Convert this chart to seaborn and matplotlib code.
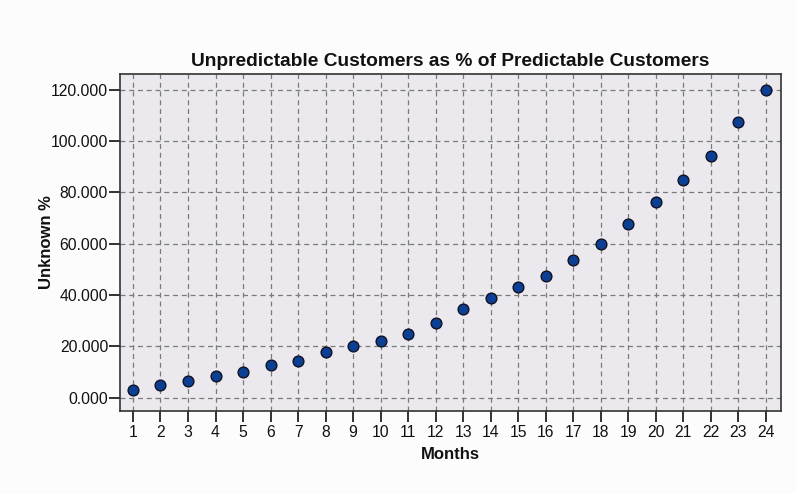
import numpy as np
import pandas as pd
import matplotlib
matplotlib.use("Agg")
import matplotlib.pyplot as plt
import seaborn as sns

# values
months = list(range(1, 25))
unknown_pct = [3.0, 4.9, 6.5, 8.6, 10.0, 12.7, 14.4, 17.7, 20.0, 21.9,
               24.8, 29.1, 34.4, 38.9, 43.0, 47.3, 53.7, 60.0, 67.6, 76.2,
               85.0, 94.0, 107.5, 120.0]
y_ticks = [0, 20, 40, 60, 80, 100, 120]

df = pd.DataFrame({"Months": months, "Unknown %": unknown_pct})

sns.set_theme(style="white")
plt.rcParams["font.family"] = ["Liberation Sans", "DejaVu Sans"]

fig = plt.figure(figsize=(7.96, 4.94), dpi=100)
fig.patch.set_facecolor("#fbfcfb")
ax = fig.add_axes([0.1508, 0.1686, 0.8304, 0.681])
ax.set_facecolor("#ebe9ee")

#Scatter of the points, dark blue with black edge
sns.scatterplot(data=df, x="Months", y="Unknown %", ax=ax, s=60,
                color="#0b3f94", edgecolor="#111122", linewidth=1.0, zorder=3)

ax.set_xlim(0.53, 24.55)
ax.set_ylim(-5.1, 126.0)
ax.set_xticks(months)
ax.set_xticklabels([str(m) for m in months])
ax.set_yticks(y_ticks)
ax.set_yticklabels([f"{v:.3f}" for v in y_ticks])

#Dashed grid like the original
ax.grid(True, linestyle=(0, (4, 3)), color="#7a7a7a", linewidth=0.9)
ax.set_axisbelow(True)

for side in ["left", "bottom", "top", "right"]:
    ax.spines[side].set_visible(True)
    ax.spines[side].set_color("#333333")
    ax.spines[side].set_linewidth(1.2)

ax.tick_params(axis="both", direction="out", length=8, width=1.3, color="#222222",
               labelsize=11.3, labelcolor="#111111", bottom=True, left=True)
ax.tick_params(axis="y", pad=0.5)
ax.tick_params(axis="x", pad=2.5)

ax.set_xlabel("Months", fontsize=12, fontweight="bold", labelpad=5, color="#111111")
ax.set_ylabel("Unknown %", fontsize=12, fontweight="bold", labelpad=-2, color="#111111")
ax.set_title("Unpredictable Customers as % of Predictable Customers",
             fontsize=13.8, fontweight="bold", pad=6, color="#111111")

fig.savefig("out.png", dpi=100, facecolor=fig.get_facecolor())
